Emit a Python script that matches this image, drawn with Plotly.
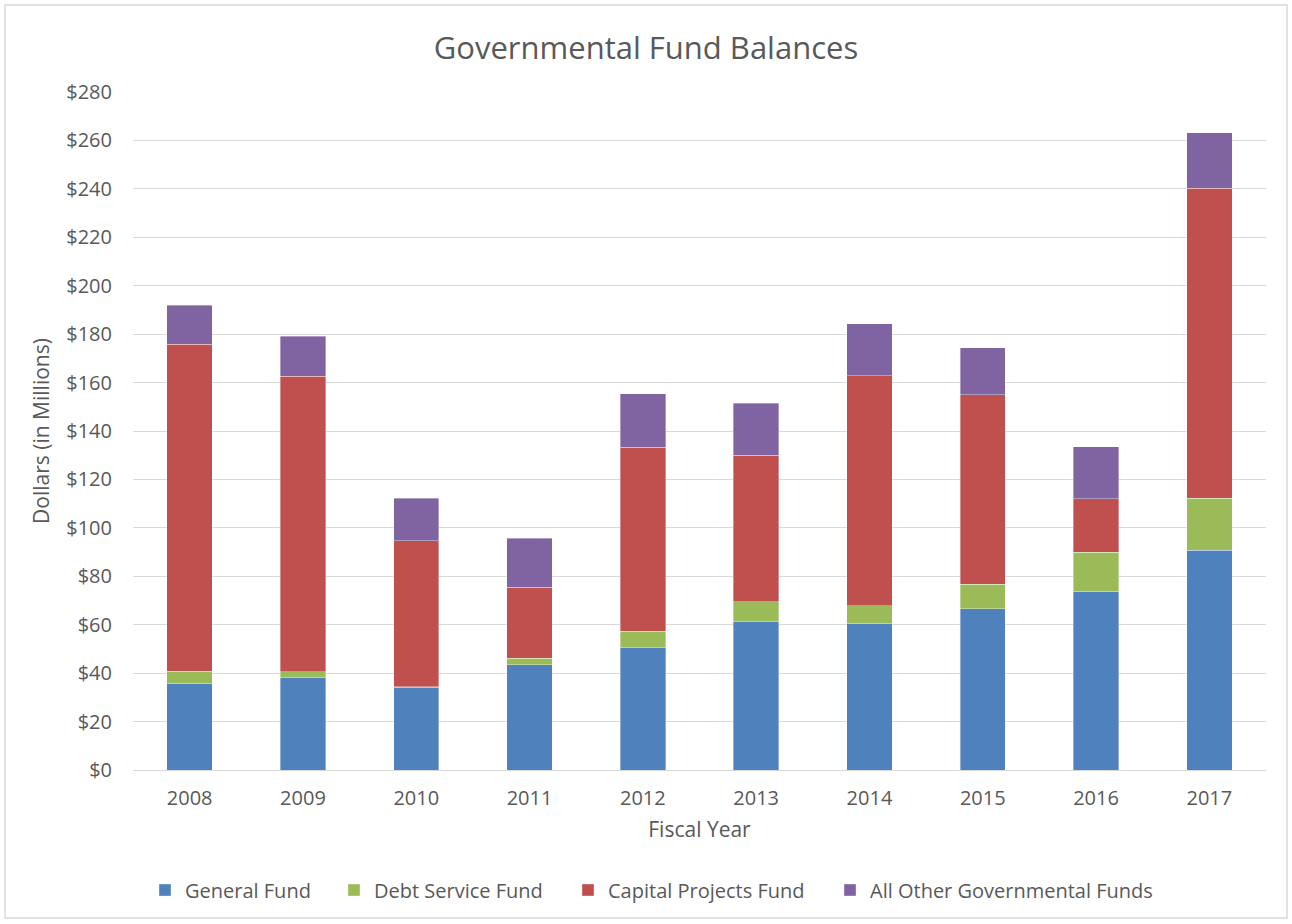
import plotly.graph_objects as go

years = ["2008", "2009", "2010", "2011", "2012", "2013", "2014", "2015", "2016", "2017"]
general_fund = [35.9, 38.3, 33.9, 43.5, 50.5, 61.3, 60.6, 66.6, 73.8, 90.7]
debt_service_fund = [4.9, 2.2, 0.4, 2.6, 6.9, 8.1, 7.3, 10.2, 16.1, 21.6]
capital_projects_fund = [135.0, 122.1, 60.3, 29.4, 75.9, 60.6, 94.9, 78.1, 22.2, 127.9]
all_other_funds = [16.1, 16.5, 17.7, 20.3, 22.0, 21.4, 21.4, 19.5, 21.4, 22.9]

series_names = ["General Fund", "Debt Service Fund", "Capital Projects Fund", "All Other Governmental Funds"]
series_values = [general_fund, debt_service_fund, capital_projects_fund, all_other_funds]
series_colors = ["#4F81BD", "#9BBB59", "#C0504D", "#8064A2"]

FONT = "'Open Sans', sans-serif"
GREY = "#595959"

L, R, T, B = 133, 26, 92, 154
W, H = 1292, 924
pw, ph = W - L - R, H - T - B

def px_x(x):
    return (x - L) / pw

def px_y(y):
    return (H - B - y) / ph

legend_marker_px = [161, 350, 584, 846]
legend_ids = ["legend", "legend2", "legend3", "legend4"]

fig = go.Figure()
for name, vals, color, lid in zip(series_names, series_values, series_colors, legend_ids):
    fig.add_trace(go.Bar(
        x=years, y=vals, name=name, legend=lid, showlegend=True,
        marker=dict(color=color, line=dict(color="rgba(255,255,255,0.6)", width=0.6)),
    ))

layout_legends = {}
for lid, mx in zip(legend_ids, legend_marker_px):
    layout_legends[lid] = dict(
        orientation="h", x=px_x(mx - 16), xanchor="left", y=px_y(890), yanchor="middle",
        font=dict(size=20, color=GREY, family=FONT), bgcolor="rgba(0,0,0,0)",
        itemwidth=30, visible=True,
    )

fig.update_layout(
    width=W, height=H, showlegend=True,
    barmode="stack", bargap=0.6,
    plot_bgcolor="white", paper_bgcolor="white",
    margin=dict(l=L, r=R, t=T, b=B),
    font=dict(family=FONT, color=GREY, size=20),
    title=dict(text="Governmental Fund Balances", x=0.5, xref="container", xanchor="center",
               y=1 - 48 / H, yref="container", yanchor="middle",
               font=dict(size=31, color=GREY, family=FONT)),
    yaxis=dict(range=[0, 280], dtick=20, tickprefix="$", showgrid=True,
               gridcolor="#D9D9D9", gridwidth=1, zeroline=False,
               ticks="", ticklabelstandoff=20, tickfont=dict(size=20),
               title=dict(text="Dollars (in Millions)", font=dict(size=21, color=GREY), standoff=10)),
    xaxis=dict(showline=True, linecolor="#D9D9D9", linewidth=1, ticks="",
               ticklabelstandoff=10, tickfont=dict(size=20),
               title=dict(text="Fiscal Year", font=dict(size=21, color=GREY), standoff=12)),
    shapes=[dict(type="rect", xref="paper", yref="paper",
                 x0=px_x(5), x1=px_x(1287), y0=px_y(918), y1=px_y(5),
                 line=dict(color="#D9D9D9", width=1.5), fillcolor="rgba(0,0,0,0)", layer="below")],
    **layout_legends,
)

fig.write_html("out.html", config={"displayModeBar": False},
               post_script="document.body.style.margin='0';document.body.style.overflow='hidden';")
